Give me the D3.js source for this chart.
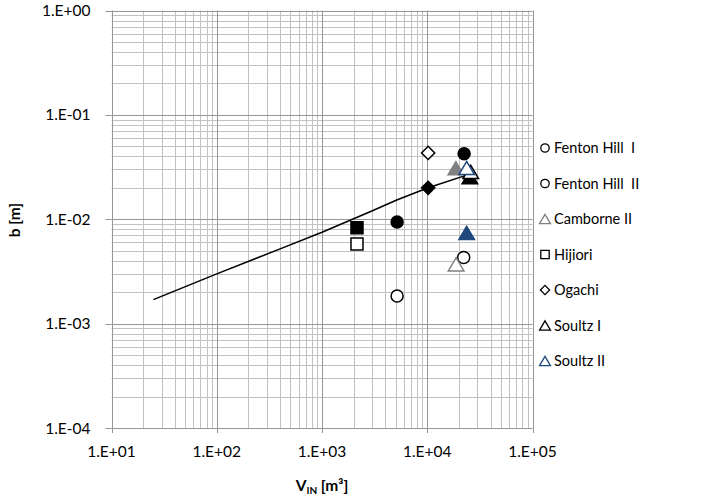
<!DOCTYPE html>
<html>
<head>
<meta charset="utf-8">
<script src="https://cdn.jsdelivr.net/npm/d3@7"></script>
<style>
	html, body { margin: 0; padding: 0; background: #fff; }
	text { font-family: Lato, "Open Sans", sans-serif; fill: #000; }
</style>
</head>
<body>
<div id="chart"></div>
<script>
// series data: each field has a "filled" and an "open" point
const seriesNames = ['Fenton Hill  I', 'Fenton Hill  II', 'Camborne II', 'Hijiori', 'Ogachi', 'Soultz I', 'Soultz II'];
const filledV = [5170, 22400, 18700, 2150, 10200, 25400, 23700];
const filledB = [0.0094, 0.0424, 0.0308, 0.0083, 0.0200, 0.0253, 0.0074];
const openV = [5170, 22200, 18800, 2150, 10200, 25900, 23700];
const openB = [0.00184, 0.0043, 0.0037, 0.0058, 0.0432, 0.0284, 0.0310];

// fitted curve
const fitV = [25, 100, 400, 1000, 2864, 5130, 10200, 22900, 26000];
const fitB = [0.0017, 0.0030, 0.0052, 0.0075, 0.0118, 0.0153, 0.0200, 0.0262, 0.0284];

const xTicks = [1e1, 1e2, 1e3, 1e4, 1e5];
const yTicks = [1e-4, 1e-3, 1e-2, 1e-1, 1e0];

// style per series (kept apart from the data)
const seriesStyle = {
	'Fenton Hill  I': { shape: 'circle', color: '#000' },
	'Fenton Hill  II': { shape: 'circle', color: '#000' },
	'Camborne II': { shape: 'triangle', color: '#808080' },
	'Hijiori': { shape: 'square', color: '#000' },
	'Ogachi': { shape: 'diamond', color: '#000' },
	'Soultz I': { shape: 'triangle', color: '#000' },
	'Soultz II': { shape: 'triangle', color: '#1f497d' },
};

const width = 711;
const height = 499;
const plot = { left: 111.5, right: 532.5, top: 10.5, bottom: 428 };

const svg = d3.select('#chart').append('svg')
	.attr('width', width)
	.attr('height', height);

const x = d3.scaleLog().domain([1e1, 1e5]).range([plot.left, plot.right]);
const y = d3.scaleLog().domain([1e-4, 1e0]).range([plot.bottom, plot.top]);

const fmt = d => {
	const e = Math.round(Math.log10(d));
	return '1.E' + (e < 0 ? '-' : '+') + String(Math.abs(e)).padStart(2, '0');
};

// marker path builder
const shapePath = (shape, s) => {
	const p = d3.path();
	if (shape === 'circle') {
		p.arc(0, 0, s, 0, 2 * Math.PI);
	} else if (shape === 'square') {
		p.rect(-s, -s, 2 * s, 2 * s);
	} else if (shape === 'diamond') {
		const r = s * 1.1;
		p.moveTo(0, -r); p.lineTo(r, 0); p.lineTo(0, r); p.lineTo(-r, 0); p.closePath();
	} else {
		const w = s * 1.3, h = s * 2.2;
		p.moveTo(0, -h / 2); p.lineTo(w, h / 2); p.lineTo(-w, h / 2); p.closePath();
	}
	return p.toString();
};

/* --------- grid --------- */
const minorX = [];
const minorY = [];
for (let e = 1; e < 5; e++) for (let k = 2; k <= 9; k++) minorX.push(k * Math.pow(10, e));
for (let e = -4; e < 0; e++) for (let k = 2; k <= 9; k++) minorY.push(k * Math.pow(10, e));

const grid = svg.append('g').attr('class', 'grid');
grid.selectAll('.mx').data(minorX).enter().append('line')
	.attr('x1', d => Math.round(x(d)) + 0.5).attr('x2', d => Math.round(x(d)) + 0.5)
	.attr('y1', plot.top).attr('y2', plot.bottom)
	.style('stroke', '#c2c2c2').style('stroke-width', 1);
grid.selectAll('.my').data(minorY).enter().append('line')
	.attr('y1', d => Math.round(y(d)) + 0.5).attr('y2', d => Math.round(y(d)) + 0.5)
	.attr('x1', plot.left).attr('x2', plot.right)
	.style('stroke', '#c2c2c2').style('stroke-width', 1);
grid.selectAll('.Mx').data(xTicks).enter().append('line')
	.attr('x1', d => Math.round(x(d)) + 0.5).attr('x2', d => Math.round(x(d)) + 0.5)
	.attr('y1', plot.top).attr('y2', plot.bottom + 5)
	.style('stroke', '#969696').style('stroke-width', 1);
grid.selectAll('.My').data(yTicks).enter().append('line')
	.attr('y1', d => Math.round(y(d)) + 0.5).attr('y2', d => Math.round(y(d)) + 0.5)
	.attr('x1', plot.left - 6).attr('x2', plot.right)
	.style('stroke', '#969696').style('stroke-width', 1);

/* --------- axes labels --------- */
svg.append('g').selectAll('text').data(xTicks).enter().append('text')
	.attr('x', d => x(d))
	.attr('y', plot.bottom + 29)
	.attr('text-anchor', 'middle')
	.style('font-size', '15.5px')
	.text(fmt);
svg.append('g').selectAll('text').data(yTicks).enter().append('text')
	.attr('x', plot.left - 21)
	.attr('y', d => y(d) + 5.5)
	.attr('text-anchor', 'end')
	.style('font-size', '15.5px')
	.text(fmt);

const xTitle = svg.append('text')
	.attr('x', 322)
	.attr('y', 491)
	.attr('text-anchor', 'middle')
	.style('font-size', '15.5px')
	.style('font-weight', 'bold');
xTitle.append('tspan').text('V');
xTitle.append('tspan').attr('dy', 3).style('font-size', '10px').text('IN');
xTitle.append('tspan').attr('dy', -3).text(' [m³]');

svg.append('text')
	.attr('transform', 'translate(20, 220) rotate(-90)')
	.attr('text-anchor', 'middle')
	.style('font-size', '15.5px')
	.style('font-weight', 'bold')
	.text('b [m]');

/* --------- fitted line --------- */
const fitData = fitV.map((v, i) => [v, fitB[i]]);
svg.append('path')
	.datum(fitData)
	.attr('d', d3.line().x(d => x(d[0])).y(d => y(d[1])))
	.style('fill', 'none')
	.style('stroke', '#000')
	.style('stroke-width', 1.5);

/* --------- points --------- */
const points = [];
seriesNames.forEach((name, i) => {
	points.push({ name, v: filledV[i], b: filledB[i], filled: true });
	points.push({ name, v: openV[i], b: openB[i], filled: false });
});

svg.append('g').selectAll('path').data(points).enter().append('path')
	.attr('transform', d => `translate(${x(d.v)}, ${y(d.b)})`)
	.attr('d', d => shapePath(seriesStyle[d.name].shape, 6))
	.style('fill', d => d.filled ? seriesStyle[d.name].color : '#fff')
	.style('stroke', d => seriesStyle[d.name].color)
	.style('stroke-width', 1.5);

/* --------- legend --------- */
const legend = svg.append('g').selectAll('g').data(seriesNames).enter().append('g')
	.attr('transform', (d, i) => `translate(545, ${148 + i * 35.5})`);
legend.append('path')
	.attr('d', d => shapePath(seriesStyle[d].shape, 4.2))
	.style('fill', 'none')
	.style('stroke', d => seriesStyle[d].color)
	.style('stroke-width', 1.3);
legend.append('text')
	.attr('x', 9)
	.attr('y', 5)
	.style('font-size', '14.5px')
	.style('white-space', 'pre')
	.text(d => d);
</script>
</body>
</html>
